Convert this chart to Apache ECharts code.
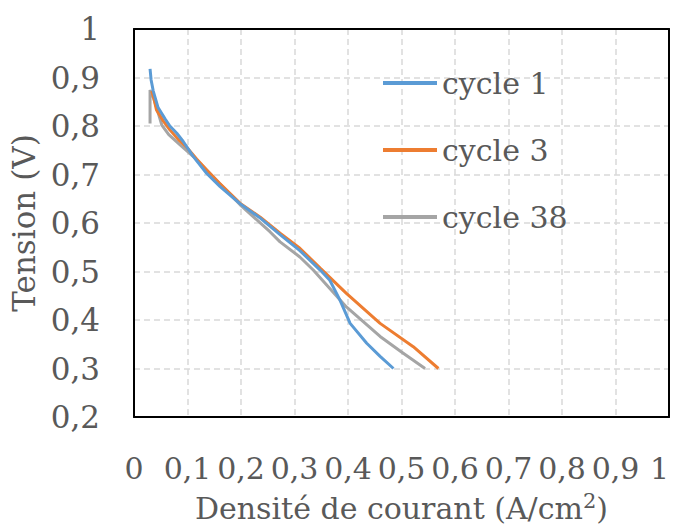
<!DOCTYPE html>
<html><head><meta charset="utf-8">
<script src="https://cdn.jsdelivr.net/npm/echarts@6/dist/echarts.min.js"></script>
<style>html,body{margin:0;padding:0;background:#fff}#c{width:675px;height:528px}</style>
</head><body><div id="c"></div>
<script>
var seriesNames = ['cycle 1', 'cycle 3', 'cycle 38'];
var c1x = [0.030,0.032,0.036,0.045,0.058,0.067,0.080,0.092,0.111,0.136,0.161,0.198,0.236,0.273,0.310,0.348,0.366,0.385,0.404,0.435,0.460,0.485];
var c1y = [0.918,0.895,0.872,0.838,0.815,0.800,0.785,0.768,0.737,0.702,0.675,0.640,0.610,0.576,0.543,0.503,0.482,0.441,0.393,0.352,0.325,0.300];
var c3x = [0.033,0.036,0.042,0.055,0.067,0.083,0.098,0.117,0.136,0.160,0.198,0.236,0.273,0.310,0.348,0.397,0.460,0.522,0.569];
var c3y = [0.872,0.862,0.833,0.810,0.792,0.772,0.757,0.732,0.709,0.682,0.641,0.612,0.579,0.548,0.507,0.455,0.393,0.345,0.300];
var c38x = [0.030,0.030,0.033,0.039,0.052,0.065,0.083,0.111,0.142,0.198,0.254,0.273,0.310,0.335,0.397,0.460,0.500,0.544];
var c38y = [0.805,0.874,0.868,0.850,0.802,0.782,0.764,0.737,0.702,0.638,0.582,0.561,0.530,0.503,0.427,0.366,0.334,0.300];
var colors = ['#5B9BD5', '#ED7D31', '#A5A5A5'];

function pairs(xs, ys){ return xs.map(function(x,i){ return [x, ys[i]]; }); }
function fmt(v){ var s = (Math.round(v*10)/10).toString(); return s.replace('.', ','); }

var FONT = 'DejaVu Serif';
var FS = 30;
var TXT = '#595959';
var chart = echarts.init(document.getElementById('c'), null, {renderer:'svg'});
var data = [pairs(c1x,c1y), pairs(c3x,c3y), pairs(c38x,c38y)];
var borderAxis = {type:'value', axisLine:{show:true, onZero:false, lineStyle:{color:'#000', width:2}}, axisTick:{show:false}, axisLabel:{show:false}, splitLine:{show:false}};
chart.setOption({
  animation: false,
  color: colors,
  textStyle: {fontFamily: FONT},
  grid: {left:134, top:29, width:535, height:388, containLabel:false, outerBoundsMode:'none'},
  legend: {
    orient:'vertical', left:378, top:58, itemWidth:54, itemHeight:4, itemGap:27, icon:'rect',
    textStyle:{fontFamily:FONT, fontSize:30, color:TXT, lineHeight:40},
    data: seriesNames
  },
  xAxis: [{
    type:'value', min:0, max:1, interval:0.1,
    axisLine:{show:true, lineStyle:{color:'#000', width:2}},
    axisTick:{show:false},
    axisLabel:{fontFamily:FONT, fontSize:FS, color:TXT, margin:36, formatter:fmt, showMinLabel:true, showMaxLabel:true, alignMaxLabel:'right'},
    splitLine:{show:true, lineStyle:{color:'#D9D9D9', width:1.5, type:[6,4]}},
    name:'{a|Densité de courant (A/cm}{s|2}{a|)}', nameLocation:'middle', nameGap:73,
    nameTextStyle:{fontFamily:FONT, fontSize:FS, color:TXT,
      rich:{a:{fontFamily:FONT, fontSize:FS, color:TXT, lineHeight:36}, s:{fontFamily:FONT, fontSize:21, color:TXT, verticalAlign:'top', padding:[0,0,12,0]}}}
  }, Object.assign({position:'top', min:0, max:1}, borderAxis)],
  yAxis: [{
    type:'value', min:0.2, max:1, interval:0.1,
    axisLine:{show:true, lineStyle:{color:'#000', width:2}},
    axisTick:{show:false},
    axisLabel:{fontFamily:FONT, fontSize:31, color:TXT, margin:34, formatter:fmt},
    splitLine:{show:true, lineStyle:{color:'#D9D9D9', width:1.5, type:[6,4]}},
    name:'Tension (V)', nameLocation:'middle', nameGap:92, nameRotate:90,
    nameTextStyle:{fontFamily:FONT, fontSize:31, color:TXT}
  }, Object.assign({position:'right', min:0.2, max:1}, borderAxis)],
  series: seriesNames.map(function(n,i){
    return {name:n, type:'line', data:data[i], showSymbol:false, symbol:'none', smooth:false,
      lineStyle:{width:3, color:colors[i]}, itemStyle:{color:colors[i]}, z: 3 - i};
  })
});
</script></body></html>
